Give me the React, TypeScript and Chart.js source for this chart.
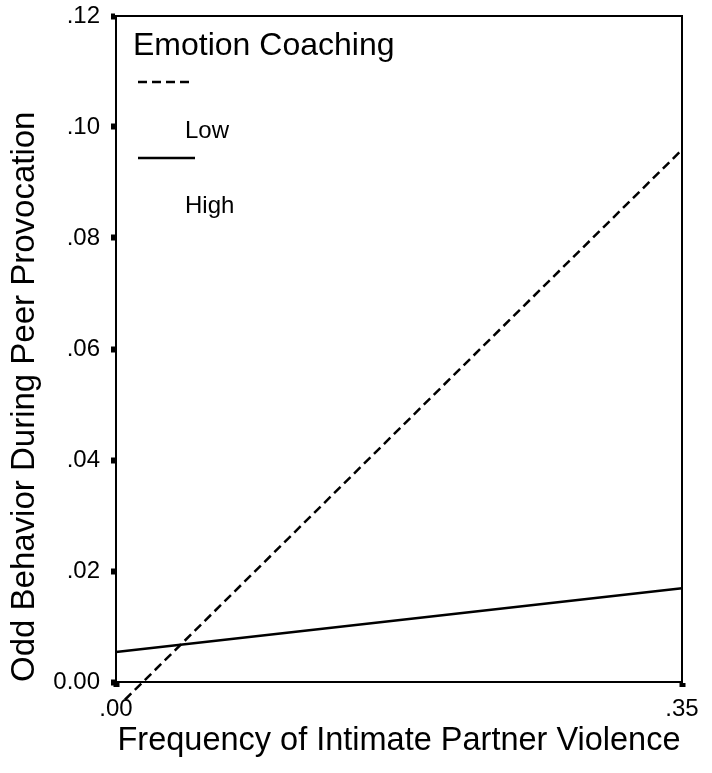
import React, { useEffect, useRef } from "react";
import { Chart, registerables } from "chart.js";

Chart.register(...registerables);

const X_TICKS = [0, 0.35];
const X_TICK_LABELS = [".00", ".35"];
const Y_TICKS = [0, 0.02, 0.04, 0.06, 0.08, 0.1, 0.12];
const Y_TICK_LABELS = ["0.00", ".02", ".04", ".06", ".08", ".10", ".12"];

const LOW_X = [0.0055, 0.35];
const LOW_Y = [-0.0032, 0.0959];
const HIGH_X = [0, 0.35];
const HIGH_Y = [0.0054, 0.0169];

const LEGEND_TITLE = "Emotion Coaching";
const SERIES_NAMES = ["Low", "High"];
const X_TITLE = "Frequency of Intimate Partner Violence";
const Y_TITLE = "Odd Behavior During Peer Provocation";

const FONT = "'Liberation Sans', Arial, Helvetica, sans-serif";

const framePlugin = {
  id: "frame",
  afterDatasetsDraw(chart: any) {
    const { ctx, chartArea } = chart;
    ctx.save();
    ctx.strokeStyle = "#000";
    ctx.lineWidth = 2;
    ctx.setLineDash([]);
    ctx.strokeRect(chartArea.left, chartArea.top, chartArea.right - chartArea.left, chartArea.bottom - chartArea.top);
    ctx.restore();
  },
};

const legendPlugin = {
  id: "customLegend",
  afterDraw(chart: any) {
    const { ctx } = chart;
    ctx.save();
    ctx.fillStyle = "#000";
    ctx.strokeStyle = "#000";
    ctx.textBaseline = "alphabetic";
    ctx.textAlign = "left";
    ctx.font = `32px ${FONT}`;
    ctx.fillText(LEGEND_TITLE, 133, 55);
    ctx.lineWidth = 2.5;
    ctx.setLineDash([9, 5]);
    ctx.beginPath();
    ctx.moveTo(138, 82);
    ctx.lineTo(192, 82);
    ctx.stroke();
    ctx.setLineDash([]);
    ctx.font = `24px ${FONT}`;
    ctx.fillText(SERIES_NAMES[0], 185, 138);
    ctx.beginPath();
    ctx.moveTo(138, 158);
    ctx.lineTo(195, 158);
    ctx.stroke();
    ctx.fillText(SERIES_NAMES[1], 185, 213);
    ctx.restore();
  },
};

export default function App() {
  const ref = useRef<HTMLCanvasElement | null>(null);

  useEffect(() => {
    document.body.style.margin = "0";
    const canvas = ref.current;
    if (!canvas) return;
    const chart = new Chart(canvas, {
      type: "line",
      data: {
        datasets: [
          {
            label: SERIES_NAMES[0],
            data: LOW_X.map((x, i) => ({ x, y: LOW_Y[i] })),
            borderColor: "#000",
            borderWidth: 2.5,
            borderDash: [9, 5],
            pointRadius: 0,
            fill: false,
            clip: false as any,
          },
          {
            label: SERIES_NAMES[1],
            data: HIGH_X.map((x, i) => ({ x, y: HIGH_Y[i] })),
            borderColor: "#000",
            borderWidth: 2.5,
            pointRadius: 0,
            fill: false,
            clip: false as any,
          },
        ],
      },
      options: {
        responsive: false,
        animation: false,
        devicePixelRatio: 1,
        layout: { padding: { left: 0, top: 16, right: 30, bottom: 0 } },
        plugins: { legend: { display: false }, tooltip: { enabled: false } },
        scales: {
          x: {
            type: "linear",
            min: 0,
            max: 0.35,
            afterBuildTicks: (scale: any) => {
              scale.ticks = X_TICKS.map((v) => ({ value: v }));
            },
            afterFit: (scale: any) => {
              scale.height = 91;
              scale.paddingLeft = 0;
              scale.paddingRight = 0;
            },
            ticks: {
              color: "#000",
              font: { family: FONT, size: 24 },
              padding: 8,
              maxRotation: 0,
              autoSkip: false,
              callback: (v: any) => {
                const i = X_TICKS.findIndex((t) => Math.abs(t - Number(v)) < 1e-9);
                return i >= 0 ? X_TICK_LABELS[i] : "";
              },
            },
            grid: {
              drawOnChartArea: false,
              drawTicks: true,
              tickLength: 5,
              tickWidth: 6,
              tickColor: "#000",
            },
            border: { display: true, color: "#000", width: 2 },
            title: {
              display: true,
              text: X_TITLE,
              color: "#000",
              font: { family: FONT, size: 32.5 },
              padding: { top: 0, bottom: 12 },
            },
          },
          y: {
            type: "linear",
            min: 0,
            max: 0.12,
            afterBuildTicks: (scale: any) => {
              scale.ticks = Y_TICKS.map((v) => ({ value: v }));
            },
            afterFit: (scale: any) => {
              scale.width = 116;
              scale.paddingTop = 0;
              scale.paddingBottom = 0;
            },
            ticks: {
              color: "#000",
              font: { family: FONT, size: 24 },
              padding: 11,
              autoSkip: false,
              callback: (v: any) => {
                const i = Y_TICKS.findIndex((t) => Math.abs(t - Number(v)) < 1e-9);
                return i >= 0 ? Y_TICK_LABELS[i] : "";
              },
            },
            grid: {
              drawOnChartArea: false,
              drawTicks: true,
              tickLength: 5,
              tickWidth: 6,
              tickColor: "#000",
            },
            border: { display: true, color: "#000", width: 2 },
            title: {
              display: true,
              text: Y_TITLE,
              align: "start",
              color: "#000",
              font: { family: FONT, size: 33 },
              padding: { top: 5, bottom: 0 },
            },
          },
        },
      } as any,
      plugins: [framePlugin, legendPlugin],
    });
    return () => chart.destroy();
  }, []);

  return (
    <div style={{ width: 712, height: 773 }}>
      <canvas ref={ref} width={712} height={773} style={{ display: "block" }} />
    </div>
  );
}
